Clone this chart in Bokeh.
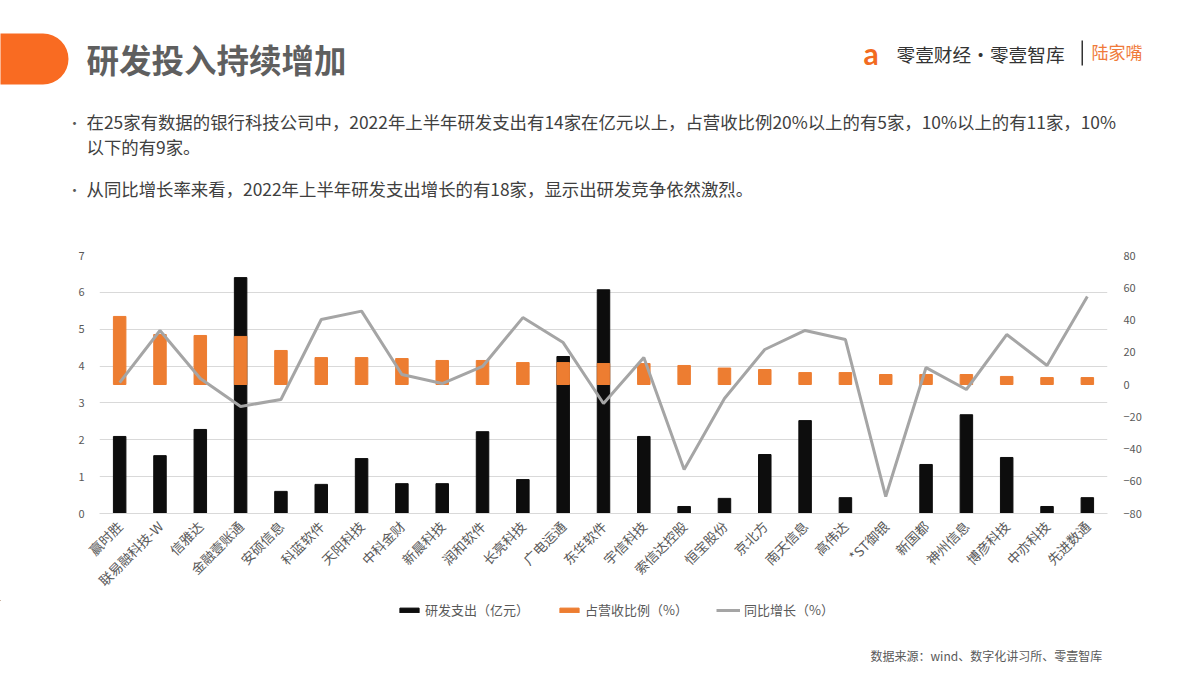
from bokeh.plotting import figure
from bokeh.layouts import column
from bokeh.models import (Range1d, LinearAxis, Label, BoxAnnotation, Legend, LegendItem,
                          FactorRange, FixedTicker, ColumnDataSource)
from bokeh.embed import file_html
from bokeh.resources import INLINE

companies = ["赢时胜", "联易融科技-W", "信雅达", "金融壹账通", "安硕信息", "科蓝软件", "天阳科技",
             "中科金财", "新晨科技", "润和软件", "长亮科技", "广电运通", "东华软件", "宇信科技",
             "索信达控股", "恒宝股份", "京北方", "南天信息", "高伟达", "*ST御银", "新国都",
             "神州信息", "博彦科技", "中亦科技", "先进数通"]
rd_spend = [2.09, 1.57, 2.28, 6.40, 0.60, 0.79, 1.49, 0.81, 0.81, 2.22, 0.92, 4.26, 6.07,
            2.09, 0.19, 0.41, 1.60, 2.52, 0.43, 0.0, 1.33, 2.68, 1.52, 0.19, 0.43]
rd_ratio = [42.2, 31.0, 30.4, 29.8, 21.1, 16.7, 16.7, 16.1, 14.9, 14.9, 13.6, 13.6, 13.0,
            13.0, 11.8, 10.2, 9.3, 7.4, 7.4, 6.2, 6.2, 6.2, 5.0, 4.3, 4.3]
yoy_growth = [1.2, 33.5, 3.7, -13.6, -9.3, 40.3, 45.5, 6.2, 0.6, 11.2, 41.5, 26.0, -11.8,
              16.7, -52.7, -8.7, 21.7, 33.5, 27.9, -69.5, 10.5, -3.1, 31.0, 11.8, 54.6]
left_ticks = [0, 1, 2, 3, 4, 5, 6, 7]
right_ticks = [-80, -60, -40, -20, 0, 20, 40, 60, 80]
series_names = ["研发支出（亿元）", "占营收比例（%）", "同比增长（%）"]

title_text = "研发投入持续增加"
bullet_1a = "在25家有数据的银行科技公司中，2022年上半年研发支出有14家在亿元以上，占营收比例20%以上的有5家，10%以上的有11家，10%"
bullet_1b = "以下的有9家。"
bullet_2 = "从同比增长率来看，2022年上半年研发支出增长的有18家，显示出研发竞争依然激烈。"
source_text = "数据来源：wind、数字化讲习所、零壹智库"

FONT = "Noto Sans CJK SC"
BLACK, ORANGE, GRAY = "#0d0d0d", "#ed7d31", "#a5a5a5"
W = 1190
HEAD_H = 220
CHART_H = 380
FOOT_H = 70


def blank_fig(height):
    f = figure(width=W, height=height, x_range=Range1d(0, W), y_range=Range1d(height, 0),
               output_backend="svg", toolbar_location=None, min_border=0,
               x_axis_location=None, y_axis_location=None, frame_align=False)
    f.grid.visible = False
    f.outline_line_color = None
    f.background_fill_color = "white"
    f.border_fill_color = "white"
    return f


def lab(f, x, y, text, size, color, bold=False, font=FONT, align="left"):
    f.add_layout(Label(x=x, y=y, text=text,
                       text_font=font, text_font_size=size, text_color=color,
                       text_font_style="bold" if bold else "normal",
                       text_align=align, text_baseline="middle"))


# ---------------- header ----------------
h = blank_fig(HEAD_H)
h.add_layout(BoxAnnotation(left=-60, right=68, top=33, bottom=84,
                           fill_color="#f96b22", fill_alpha=1,
                           line_color=None, border_radius=26))
lab(h, 86, 58, title_text, "32.5px", "#5f5f5f", bold=True)
lab(h, 863, 52, "a", "30px", "#f26b21", bold=True, font="Lato")
lab(h, 896, 53, "零壹财经·零壹智库", "18.7px", "#333333")
h.add_layout(BoxAnnotation(left=1081, right=1082.5, top=40, bottom=65,
                           fill_color="#333333", fill_alpha=1, line_color=None))
lab(h, 1091, 51, "陆家嘴", "17px", "#f07a3a")
lab(h, 67, 121, "•", "14px", "#595959")
lab(h, 86, 121, bullet_1a, "17.4px", "#404040")
lab(h, 86, 146, bullet_1b, "17.4px", "#404040")
lab(h, 67, 188, "•", "14px", "#595959")
lab(h, 86, 188, bullet_2, "17.4px", "#404040")

# ---------------- chart ----------------
src = ColumnDataSource(dict(company=companies, spend=rd_spend, ratio=rd_ratio, growth=yoy_growth))

FR_TOP = 255 - HEAD_H
FR_BOTTOM = CHART_H - FR_TOP - 258
p = figure(width=W, height=CHART_H, x_range=FactorRange(*companies), y_range=Range1d(0, 7),
           output_backend="svg", toolbar_location=None, frame_align=False,
           min_border_left=99, min_border_right=W - 1107, min_border_top=FR_TOP,
           min_border_bottom=FR_BOTTOM)
p.x_range.range_padding = 0
p.extra_y_ranges = {"pct": Range1d(-80, 80)}
p.outline_line_color = None
p.background_fill_color = "white"
p.border_fill_color = "white"

p.yaxis.ticker = FixedTicker(ticks=left_ticks)
ax = p.yaxis[0]
ax.axis_line_color = None
ax.major_tick_line_color = None
ax.minor_tick_line_color = None
ax.major_label_standoff = 9
ax.major_label_text_font = FONT
ax.major_label_text_font_size = "11px"
ax.major_label_text_color = "#595959"

rax = LinearAxis(y_range_name="pct", ticker=FixedTicker(ticks=right_ticks))
rax.axis_line_color = None
rax.major_tick_line_color = None
rax.minor_tick_line_color = None
rax.major_label_standoff = 10
rax.major_label_text_font = FONT
rax.major_label_text_font_size = "11px"
rax.major_label_text_color = "#595959"
p.add_layout(rax, "right")

xa = p.xaxis[0]
xa.axis_line_color = "#d9d9d9"
xa.major_tick_line_color = None
xa.minor_tick_line_color = None
xa.major_label_orientation = 0.785398
xa.major_label_standoff = 4
xa.major_label_text_font = FONT
xa.major_label_text_font_size = "13.5px"
xa.major_label_text_color = "#595959"

p.xgrid.grid_line_color = None
p.ygrid.ticker = FixedTicker(ticks=left_ticks)
p.ygrid.grid_line_color = "#d9d9d9"
p.ygrid.grid_line_width = 1

p.vbar(x="company", top="spend", bottom=0, width=0.31, color=BLACK, source=src)
p.vbar(x="company", top="ratio", bottom=0, width=0.31, color=ORANGE,
       y_range_name="pct", source=src)
p.line(x="company", y="growth", line_color=GRAY, line_width=3,
       y_range_name="pct", source=src)

# ---------------- footer: legend + source ----------------
f = blank_fig(FOOT_H)
# legend key renderers (one off-canvas point each so the keys get a style index)
k1 = f.vbar(x=[-100], top=[0], bottom=[0], width=1, color=BLACK)
k2 = f.vbar(x=[-100], top=[0], bottom=[0], width=1, color=ORANGE)
k3 = f.line(x=[-100, -99], y=[0, 0], line_color=GRAY, line_width=3)
legend = Legend(items=[LegendItem(label=series_names[0], renderers=[k1]),
                       LegendItem(label=series_names[1], renderers=[k2]),
                       LegendItem(label=series_names[2], renderers=[k3])],
                location=(397, FOOT_H - 19), orientation="horizontal",
                border_line_color=None, background_fill_alpha=0,
                glyph_width=24, glyph_height=6, label_height=16,
                label_text_font=FONT, label_text_font_size="13px", label_text_color="#595959",
                spacing=28, padding=0, margin=0, label_standoff=4)
f.add_layout(legend)
lab(f, 870, 55, source_text, "12px", "#595959")

open("out.html", "w").write(file_html(column(h, p, f, spacing=0), INLINE))
